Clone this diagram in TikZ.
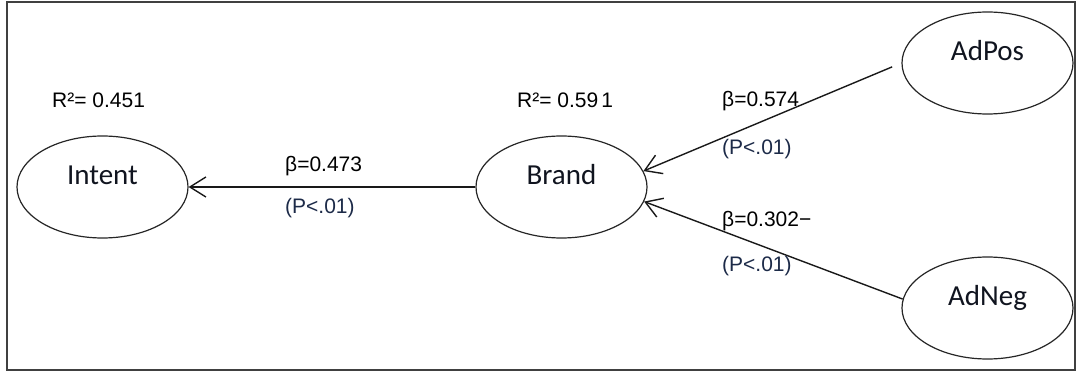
\documentclass[tikz,border=0pt]{standalone}
\usepackage{fontspec}
\setmainfont{Liberation Sans}
\newfontfamily\ellfont{Carlito}
\usetikzlibrary{shapes.geometric,arrows.meta}
\definecolor{framegray}{HTML}{404040}
\definecolor{navytext}{HTML}{1C2A48}
\definecolor{elltext}{HTML}{10141F}
\tikzset{
  construct/.style={draw=black!85, line width=1.2pt, ellipse, minimum width=171pt, minimum height=102pt, inner sep=0pt,
    font=\ellfont\fontsize{29}{32}\selectfont, text=elltext},
  lbl/.style={anchor=base west, inner sep=0pt, font=\fontsize{21}{24}\selectfont, text=black},
  plbl/.style={lbl, text=navytext},
  path/.style={draw=black!90, line width=1.4pt, -{Straight Barb[length=16pt,width=20pt,line width=1.4pt]}}
}
\newcommand{\upraise}[1]{\raisebox{2pt}[0pt][0pt]{#1}}
\begin{document}
\begin{tikzpicture}[x=1pt,y=-1pt]
\useasboundingbox (0,0) rectangle (1079,374);
\draw[framegray, line width=2pt] (7,2) rectangle (1075,370);

\node[construct] (intent) at (102.5,187) {\upraise{Intent}};
\node[construct] (brand)  at (561.5,187) {\upraise{Brand}};
\node[construct] (adpos)  at (987.5,63)  {\upraise{AdPos}};
\node[construct] (adneg)  at (987.5,308) {\upraise{AdNeg}};

\draw[path] (brand.west) -- (intent.east);
\draw[path, shorten <=10pt] (adpos.west) -- (brand.11);
\draw[path] (adneg.174) -- (brand.-10);

\node[lbl] (r2i) at (52,108) {R²= 0.451};
\node[lbl] (r2b) at (517,108) {R²= 0.59\kern3pt 1};
\node[lbl] (b1) at (285,172) {β=0.473};
\node[plbl] (p1) at (285,214) {(P<.01)};
\node[lbl] (b2) at (722,107) {β=0.574};
\node[plbl] (p2) at (722,155) {(P<.01)};
\node[lbl] (b3) at (722,227) {β=0.302−};
\node[plbl] (p3) at (722,271) {(P<.01)};
\end{tikzpicture}
\end{document}
